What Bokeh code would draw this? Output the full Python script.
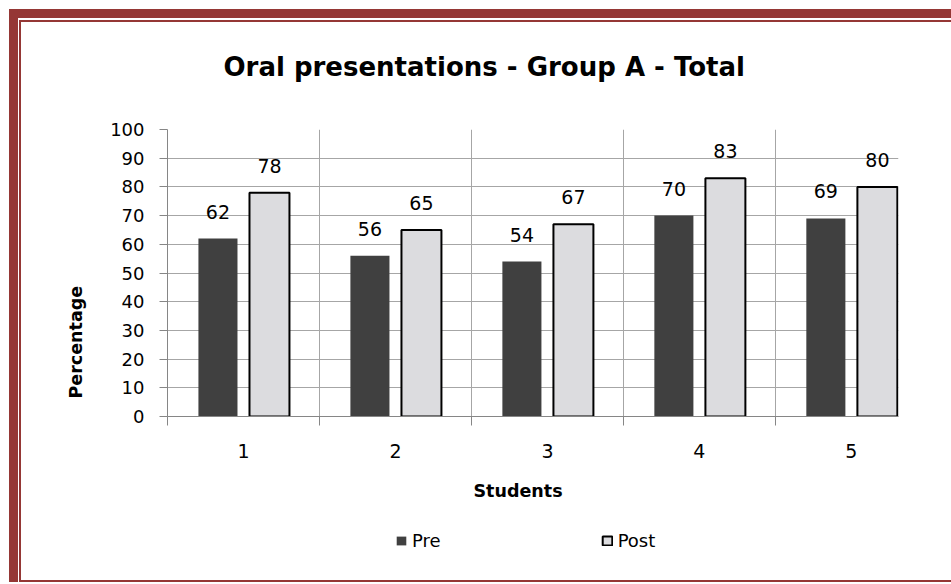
from bokeh.plotting import figure
from bokeh.layouts import column
from bokeh.models import (ColumnDataSource, FixedTicker, Legend, LegendItem, Title, Range1d)
from bokeh.core.properties import value
from bokeh.transform import dodge
from bokeh.embed import file_html
from bokeh.resources import INLINE

# ---- data ----
students = [1, 2, 3, 4, 5]
student_labels = ["1", "2", "3", "4", "5"]
pre = [62, 56, 54, 70, 69]
post = [78, 65, 67, 83, 80]
series_names = ["Pre", "Post"]
y_ticks = [0, 10, 20, 30, 40, 50, 60, 70, 80, 90, 100]
title_text = "Oral presentations - Group A - Total"
x_title = "Students"
y_title = "Percentage"

FONT = "DejaVu Sans"
RED = "#953735"
GRID = "#a6a6a6"
PRE_STYLE = dict(fill_color="#404040", line_color=None)
POST_STYLE = dict(fill_color="#dcdcdf", line_color="black", line_width=2)

src = ColumnDataSource(dict(
    x=students, pre=pre, post=post,
    pre_lbl=[str(v) for v in pre], post_lbl=[str(v) for v in post],
))

# ---- title strip (page y 22..111) ----
tf = figure(width=930, height=89, output_backend="svg", toolbar_location=None,
            x_range=Range1d(0, 1), y_range=Range1d(0, 1),
            x_axis_location=None, y_axis_location=None, min_border=0,
            border_fill_color="white", background_fill_color="white")
tf.outline_line_color = None
tf.grid.visible = False
tf.title = Title(text=title_text, align="left", offset=56, standoff=54,
                 text_font=FONT, text_font_size="26px", text_font_style="bold",
                 text_color="black")

# ---- main chart (page y 111..520) ----
p = figure(frame_width=731, frame_height=287, output_backend="svg", toolbar_location=None,
           x_range=Range1d(0.5, 5.31), y_range=Range1d(0, 100),
           min_border_left=146, min_border_right=53, min_border_top=18, min_border_bottom=104,
           border_fill_color="white", background_fill_color="white")
p.outline_line_color = None
p.title.visible = False

p.vbar(x=dodge("x", -0.168, range=p.x_range), top="pre", bottom=0, width=0.257,
       source=src, **PRE_STYLE)
p.vbar(x=dodge("x", 0.171, range=p.x_range), top="post", bottom=0, width=0.263,
       source=src, **POST_STYLE)

p.text(x=dodge("x", -0.168, range=p.x_range), y="pre", text="pre_lbl", source=src,
       text_align="center", text_baseline="alphabetic", y_offset=-27,
       text_font=value(FONT), text_font_size="19px", text_color="black")
p.text(x=dodge("x", 0.171, range=p.x_range), y="post", text="post_lbl", source=src,
       text_align="center", text_baseline="alphabetic", y_offset=-27,
       text_font=value(FONT), text_font_size="19px", text_color="black")

xa = p.xaxis[0]
xa.ticker = FixedTicker(ticks=students, minor_ticks=[0.5, 1.5, 2.5, 3.5, 4.5, 5.5])
xa.major_label_overrides = {s: l for s, l in zip(students, student_labels)}
xa.major_tick_out = 0
xa.major_tick_in = 0
xa.minor_tick_out = 9
xa.minor_tick_in = 0
xa.minor_tick_line_color = "#868686"
xa.axis_line_color = "#868686"
xa.major_label_text_font = FONT
xa.major_label_text_font_size = "19px"
xa.major_label_text_color = "black"
xa.major_label_standoff = 18

ya = p.yaxis[0]
ya.ticker = FixedTicker(ticks=y_ticks, minor_ticks=[])
ya.major_tick_out = 8
ya.major_tick_in = 0
ya.major_tick_line_color = "#868686"
ya.axis_line_color = "#868686"
ya.major_label_text_font = FONT
ya.major_label_text_font_size = "18px"
ya.major_label_text_color = "black"
ya.major_label_standoff = 15

p.xgrid.ticker = FixedTicker(ticks=[1.5, 2.5, 3.5, 4.5])
p.xgrid.grid_line_color = GRID
p.ygrid.ticker = FixedTicker(ticks=y_ticks)
p.ygrid.grid_line_color = GRID

p.add_layout(Title(text=y_title, align="left", offset=18, standoff=43,
                   text_font=FONT, text_font_size="17.5px", text_font_style="bold",
                   text_color="black"), "left")
p.add_layout(Title(text=x_title, align="left", offset=306, standoff=36,
                   text_font=FONT, text_font_size="17.5px", text_font_style="bold",
                   text_color="black"), "below")

# ---- legend strip (page y 520..580); its bar renderers are hidden, only swatches show ----
lg = figure(width=930, height=60, output_backend="svg", toolbar_location=None,
            x_range=Range1d(0.5, 5.5), y_range=Range1d(0, 100),
            x_axis_location=None, y_axis_location=None, min_border=0,
            border_fill_color="white", background_fill_color="white")
lg.outline_line_color = None
lg.grid.visible = False
lr_pre = lg.vbar(x="x", top="pre", width=0.25, source=src, visible=False, **PRE_STYLE)
lr_post = lg.vbar(x="x", top="post", width=0.25, source=src, visible=False, **POST_STYLE)
legend = Legend(items=[LegendItem(label=series_names[0], renderers=[lr_pre]),
                       LegendItem(label=series_names[1], renderers=[lr_post])],
                orientation="horizontal", location=(228, 29), spacing=160,
                glyph_width=12, glyph_height=11, label_standoff=5,
                label_text_font=FONT, label_text_font_size="18px", label_text_color="black",
                inactive_fill_alpha=0,
                border_line_color=None, background_fill_alpha=0, padding=0, margin=0)
lg.add_layout(legend)

inner = column(tf, p, lg, styles={"border-left": f"2px solid {RED}", "border-top": f"2px solid {RED}",
                                  "border-bottom": f"2px solid {RED}", "margin-left": "1px",
                                  "margin-top": "2px"})
layout = column(inner, styles={"border-left": f"9px solid {RED}", "border-top": f"9px solid {RED}",
                               "margin-left": "9px", "margin-top": "9px"})

open("out.html", "w").write(file_html(layout, INLINE))
